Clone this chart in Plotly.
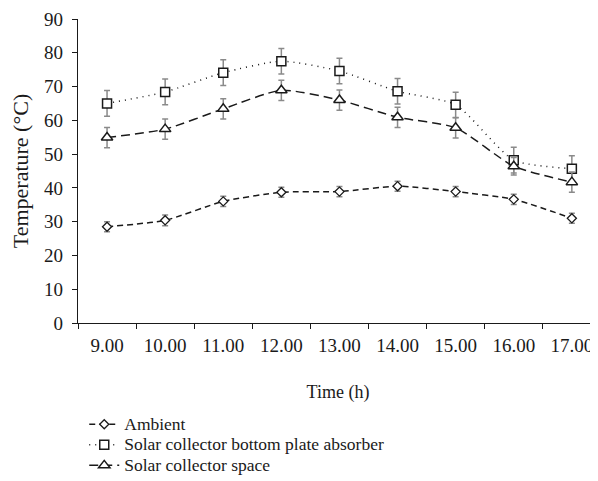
import plotly.graph_objects as go

times = ["9.00", "10.00", "11.00", "12.00", "13.00", "14.00", "15.00", "16.00", "17.00"]
ambient = [28.5, 30.4, 36.0, 38.7, 38.9, 40.5, 38.9, 36.6, 31.0]
ambient_err = [1.5, 1.6, 1.5, 1.5, 1.5, 1.5, 1.5, 1.5, 1.5]
bottom_plate = [65.0, 68.4, 74.1, 77.5, 74.6, 68.6, 64.6, 48.2, 45.7]
bottom_plate_err = [3.8, 3.8, 3.8, 3.8, 3.8, 3.75, 3.75, 3.8, 3.8]
space = [54.9, 57.4, 63.4, 68.9, 66.0, 60.9, 57.8, 46.4, 41.7]
space_err = [3.0, 3.0, 3.0, 3.0, 3.0, 3.0, 3.0, 2.6, 3.0]
series_names = ["Ambient", "Solar collector bottom plate absorber", "Solar collector space"]

FONT = "Liberation Serif"
ERR = "#8a8a8a"
INK = "#1a1a1a"

def err(vals):
    return dict(type="data", array=vals, visible=True, color=ERR, thickness=1.5, width=3)

def label(name):
    # larger glyphs than the legend's base font, which sets the row spacing
    return f'<span style="font-size:17.5px">{name}</span>'

fig = go.Figure()
fig.add_trace(go.Scatter(
    x=times, y=ambient, name=label(series_names[0]), mode="lines+markers",
    line=dict(color=INK, width=1.5, dash="6px,4px", shape="spline", smoothing=0.6),
    marker=dict(symbol="diamond", size=7, color="white", line=dict(color=INK, width=1.3)),
    error_y=err(ambient_err),
))
fig.add_trace(go.Scatter(
    x=times, y=bottom_plate, name=label(series_names[1]), mode="lines+markers",
    line=dict(color=INK, width=1.5, dash="1px,5px", shape="spline", smoothing=0.6),
    marker=dict(symbol="square", size=9, color="white", line=dict(color=INK, width=1.5)),
    error_y=err(bottom_plate_err),
))
fig.add_trace(go.Scatter(
    x=times, y=space, name=label(series_names[2]), mode="lines+markers",
    line=dict(color=INK, width=1.5, dash="9px,5px", shape="spline", smoothing=0.6),
    marker=dict(symbol="triangle-up", size=10, color="white", line=dict(color=INK, width=1.5)),
    error_y=err(space_err),
))

# page body has an 8px margin, so the figure is sized/offset to fill the 598x481 window
fig.update_layout(
    width=590, height=473,
    margin=dict(l=70, r=0, t=11, b=158),
    paper_bgcolor="white", plot_bgcolor="white",
    font=dict(family=FONT, size=17, color=INK),
    showlegend=True,
    legend=dict(x=0.012, y=-0.5197, xanchor="left", yanchor="bottom",
                font=dict(family=FONT, size=13.5, color=INK),
                tracegroupgap=0, itemwidth=30, bgcolor="rgba(0,0,0,0)"),
)
fig.update_xaxes(
    type="category", range=[-0.5, 8.45], tickson="boundaries", automargin=False,
    ticks="outside", ticklen=5, tickcolor=INK, showline=True, linecolor=INK,
    linewidth=1.2, showgrid=False, zeroline=False, ticklabelstandoff=5,
    title=dict(text="Time (h)", font=dict(family=FONT, size=18), standoff=30),
    tickfont=dict(family=FONT, size=19),
)
fig.update_yaxes(
    range=[0, 90], dtick=10, ticks="outside", ticklen=5, tickcolor=INK, automargin=False,
    showline=True, linecolor=INK, linewidth=1.2, showgrid=False, zeroline=False,
    ticklabelstandoff=5,
    title=dict(text="Temperature (°C)", font=dict(family=FONT, size=22), standoff=9),
    tickfont=dict(family=FONT, size=19),
)

fig.write_html("out.html")
